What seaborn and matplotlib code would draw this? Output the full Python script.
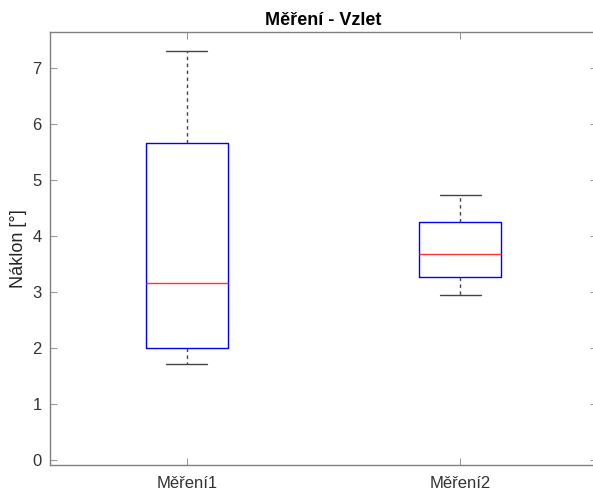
import numpy as np
import pandas as pd
import matplotlib
matplotlib.use("Agg")
import matplotlib.pyplot as plt
import seaborn as sns

# Values (min, q1, median, q3, max)
categories = ["Měření1", "Měření2"]
mereni1 = [1.71, 2.00, 3.16, 5.66, 7.30]
mereni2 = [2.95, 3.27, 3.68, 4.25, 4.73]
title = "Měření - Vzlet"
ylabel = "Náklon [°]"
yticks = [0, 1, 2, 3, 4, 5, 6, 7]

df = pd.DataFrame({
    "skupina": [categories[0]] * len(mereni1) + [categories[1]] * len(mereni2),
    "hodnota": mereni1 + mereni2,
})

sns.set_style("white")
plt.rcParams["font.family"] = ["Liberation Sans", "DejaVu Sans"]

fig = plt.figure(figsize=(5.93, 4.91), dpi=100)
ax = fig.add_axes([50 / 593, 1 - 465 / 491, (597 - 50) / 593, (465 - 32) / 491])

sns.boxplot(
    data=df, x="skupina", y="hodnota", order=categories, ax=ax,
    width=0.3, fill=False, whis=np.inf, showfliers=False,
    boxprops=dict(color="blue", linewidth=1.0),
    medianprops=dict(color="#ff3333", linewidth=1.0),
    whiskerprops=dict(color="#444444", linewidth=1.0, linestyle=(0, (2.5, 2.5))),
    capprops=dict(color="#444444", linewidth=1.0),
)

ax.set_xlim(-0.5, 1.5)
ax.set_ylim(-0.09, 7.64)
ax.set_yticks(yticks)
ax.set_xlabel("")
ax.set_ylabel(ylabel, fontsize=13, color="#262626")
ax.set_title(title, fontsize=13, fontweight="bold", color="black", pad=5)

for sp in ax.spines.values():
    sp.set_visible(True)
    sp.set_color("#808080")
    sp.set_linewidth(1.0)
ax.spines["right"].set_visible(False)

ax.tick_params(axis="both", direction="in", length=5, width=0.8, color="#999999",
               labelsize=12, labelcolor="#333333", top=True, right=True,
               bottom=True, left=True)
ax.tick_params(axis="y", pad=6)
ax.tick_params(axis="x", pad=8)

fig.savefig("out.png", dpi=100)
